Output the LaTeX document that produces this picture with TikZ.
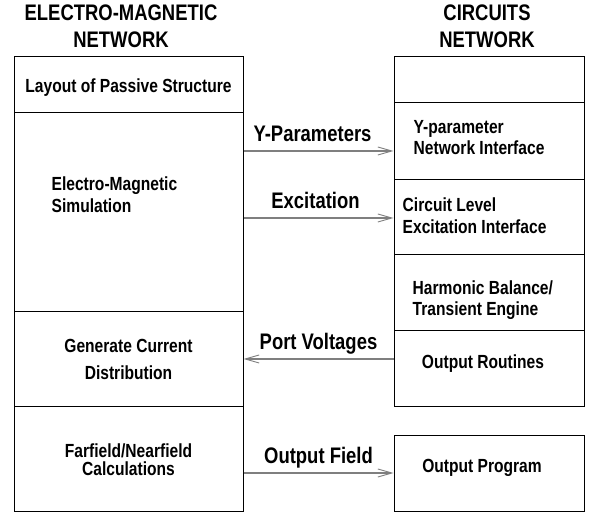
\documentclass[tikz,border=0pt]{standalone}
\usepackage{fontspec}
\setmainfont{Liberation Sans}[FakeStretch=0.82]
\usetikzlibrary{arrows.meta}
\begin{document}
\begin{tikzpicture}[x=1pt, y=-1pt,
		cell/.style={draw=black, line width=1pt, inner sep=0pt},
		txt/.style={font=\fontsize{19}{21.5}\selectfont\bfseries, inner sep=0pt},
		head/.style={font=\fontsize{22.5}{27}\selectfont\bfseries, align=center, inner sep=0pt},
		lbl/.style={font=\fontsize{22.5}{26}\selectfont\bfseries, inner sep=0pt, anchor=base, yshift=9.5pt},
		flow/.style={draw=flowcol, line width=1.2pt,
			-{Straight Barb[length=14pt, width=8pt, line width=0.9pt]}}
		]
		
		\definecolor{flowcol}{HTML}{7F7F7F}
		\useasboundingbox (0,0) rectangle (590,513);
		
		\node[head] (emhead)  at (121, 26) {ELECTRO-MAGNETIC\\NETWORK};
		\node[head] (cirhead) at (487, 26) {CIRCUITS\\NETWORK};
		
		\node[cell, minimum width=229pt, minimum height=56pt]  (layout)   at (128.5, 85)    {};
		\node[cell, minimum width=229pt, minimum height=199pt] (emsim)    at (128.5, 212.5) {};
		\node[cell, minimum width=229pt, minimum height=95pt]  (gencur)   at (128.5, 359.5) {};
		\node[cell, minimum width=229pt, minimum height=105pt] (farfield) at (128.5, 459.5) {};
		
		\node[cell, minimum width=190pt, minimum height=46pt]  (cirtop)   at (489, 80)    {};
		\node[cell, minimum width=190pt, minimum height=77pt]  (yparam)   at (489, 141.5) {};
		\node[cell, minimum width=190pt, minimum height=75pt]  (excite)   at (489, 217.5) {};
		\node[cell, minimum width=190pt, minimum height=76pt]  (harmonic) at (489, 293)   {};
		\node[cell, minimum width=190pt, minimum height=76pt]  (outrout)  at (489, 369)   {};
		\node[cell, minimum width=190pt, minimum height=76pt]  (outprog)  at (489, 474)   {};
		
		\node[txt] at ([yshift=-3pt]layout.center) {Layout of Passive Structure};
		\node[txt, align=left, anchor=west] at ([xshift=38pt, yshift=18pt]emsim.west) {Electro-Magnetic\\Simulation};
		\node[txt, align=center] at (gencur.center) {Generate Current\\[5pt]Distribution};
		\node[txt, align=center] at (farfield.center) {Farfield/Nearfield\\[-4pt]Calculations};
		
		\node[txt, align=left, anchor=west] at ([xshift=20pt, yshift=4pt]yparam.west) {Y-parameter\\Network Interface};
		\node[txt, align=left, anchor=west] at ([xshift=9pt, yshift=2pt]excite.west) {Circuit Level\\Excitation Interface};
		\node[txt, align=left, anchor=west] at ([xshift=19pt, yshift=-7pt]harmonic.west) {Harmonic Balance/\\Transient Engine};
		\node[txt] at ([xshift=-6pt, yshift=5pt]outrout.center) {Output Routines};
		\node[txt] at ([xshift=-7pt, yshift=6pt]outprog.center) {Output Program};
		
		\coordinate (ypar)  at (0, 151);
		\coordinate (exc)   at (0, 218);
		\coordinate (portv) at (0, 359);
		\coordinate (outf)  at (0, 473);
		
		\draw[flow] (emsim.east |- ypar) -- node[lbl, xshift=-6pt] {Y-Parameters} (yparam.west |- ypar);
		\draw[flow] (emsim.east |- exc) -- node[lbl, xshift=-3pt] {Excitation} (excite.west |- exc);
		\draw[flow] (outrout.west |- portv) -- node[lbl] {Port Voltages} (gencur.east |- portv);
		\draw[flow] (farfield.east |- outf) -- node[lbl] {Output Field} (outprog.west |- outf);
		
	\end{tikzpicture}
\end{document}
